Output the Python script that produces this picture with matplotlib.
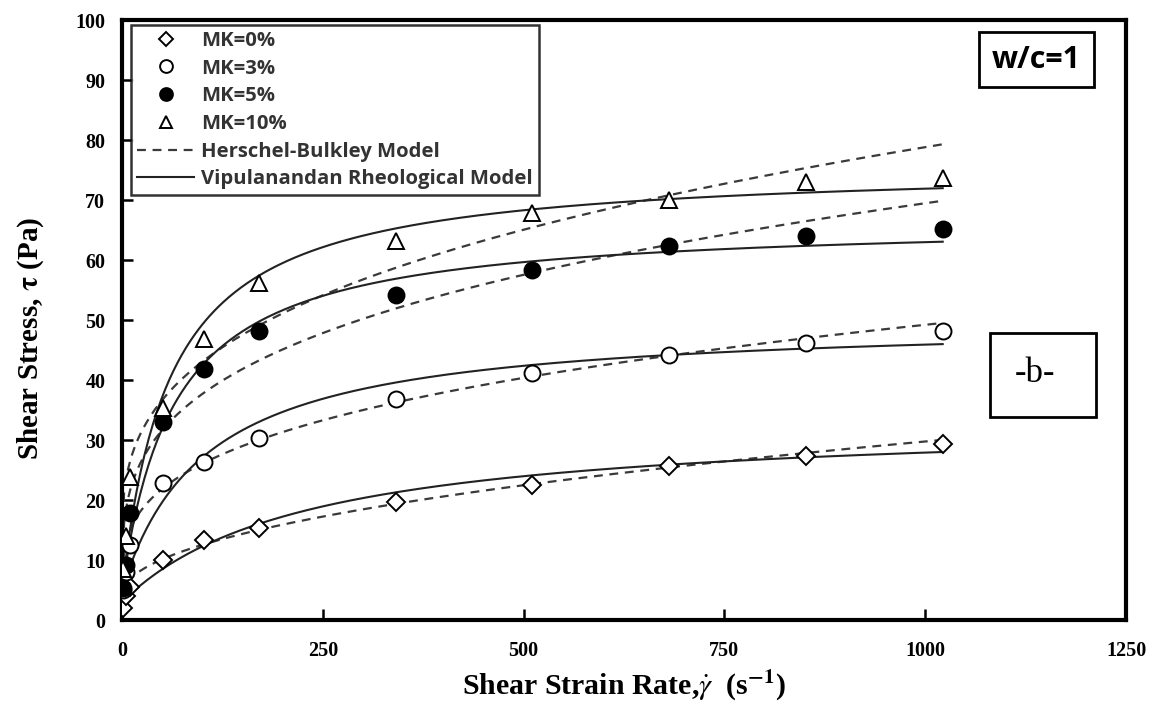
import numpy as np
import matplotlib
matplotlib.use("Agg")
from matplotlib import pyplot as plt
from matplotlib.lines import Line2D
from matplotlib.patches import Rectangle

# measured shear strain rates (1/s) and shear stress (Pa) per metakaolin content
shear_rate = [1.7, 5.1, 10.2, 51.1, 102.2, 170.3, 340.6, 510.9, 681.2, 851.5, 1021.8]
mk0 = [2.0, 4.0, 5.5, 10.0, 13.3, 15.3, 19.6, 22.5, 25.7, 27.3, 29.3]
mk3 = [5.0, 8.0, 12.5, 22.8, 26.4, 30.3, 36.8, 41.1, 44.2, 46.2, 48.2]
mk5 = [5.3, 9.2, 17.8, 33.0, 41.8, 48.2, 54.2, 58.3, 62.3, 64.0, 65.2]
mk10 = [8.5, 14.0, 23.8, 35.3, 46.9, 56.1, 63.1, 67.8, 70.0, 73.0, 73.7]
series_labels = ["MK=0%", "MK=3%", "MK=5%", "MK=10%"]

# model parameters
# Herschel-Bulkley: tau = tau0 + K * rate^n
hb_tau0 = [4.0, 5.0, 5.0, 12.0]
hb_k = [0.935, 4.78, 8.40, 6.71]
hb_n = [0.48, 0.322, 0.295, 0.3327]
# Vipulanandan: tau = tau0 + rate / (A + B * rate)
vp_tau0 = [3.0, 5.0, 5.0, 5.0]
vp_a = [7.53, 2.31, 1.049, 0.85]
vp_b = [0.03263, 0.02214, 0.0162, 0.0141]

x_ticks = [0, 250, 500, 750, 1000, 1250]
y_ticks = [0, 10, 20, 30, 40, 50, 60, 70, 80, 90, 100]

serif = "Liberation Serif"
sans = "Open Sans"
plt.rcParams["mathtext.fontset"] = "stix"

fig = plt.figure(figsize=(11.58, 7.06), dpi=100)
ax = fig.add_axes([122/1158, 1-620/706, (1126-122)/1158, 600/706])

rate = np.linspace(0, max(shear_rate), 400)
for t0, k, n in zip(hb_tau0, hb_k, hb_n):
    ax.plot(rate, t0 + k*rate**n, color="#3a3a3a", lw=1.6, ls=(0, (4, 3)), zorder=2)
for t0, a, b in zip(vp_tau0, vp_a, vp_b):
    ax.plot(rate, t0 + rate/(a + b*rate), color="#222222", lw=1.5, zorder=2)

styles = [("D", 9, "white"), ("o", 11.5, "white"), ("o", 11.5, "black"), ("^", 11.5, "white")]
for vals, lab, (m, ms, fc) in zip([mk0, mk3, mk5, mk10], series_labels, styles):
    ax.plot(shear_rate, vals, ls="none", marker=m, ms=ms, mfc=fc, mec="black",
            mew=1.4, label=lab, zorder=3)

handles, labels = ax.get_legend_handles_labels()
handles += [Line2D([], [], color="#3a3a3a", lw=1.6, ls=(0, (4, 3))),
            Line2D([], [], color="#222222", lw=1.5)]
labels += ["Herschel-Bulkley Model", "Vipulanandan Rheological Model"]
leg = ax.legend(handles, labels, loc="upper left", bbox_to_anchor=(0.009, 0.992),
                frameon=True, fancybox=False, edgecolor="black", handlelength=2.8,
                labelspacing=0.38, borderpad=0.3, handletextpad=0.35, borderaxespad=0,
                markerscale=0.8,
                prop={"family": sans, "weight": "bold", "size": 14.6})
leg.get_frame().set_linewidth(1.8)
for t in leg.get_texts():
    t.set_color("#333333")

ax.set_xlim(0, 1250)
ax.set_ylim(0, 100)
ax.set_xticks(x_ticks)
ax.set_yticks(y_ticks)
ax.tick_params(direction="in", length=8, width=1.8, pad=12)
ax.tick_params(axis="x", pad=15)
for lab in ax.get_xticklabels() + ax.get_yticklabels():
    lab.set_fontfamily(serif)
    lab.set_fontweight("bold")
    lab.set_fontsize(14.5)
for s in ax.spines.values():
    s.set_linewidth(3)

ax.set_ylabel(r"Shear Stress, $\mathbf{\tau}$ (Pa)", fontfamily=serif, fontweight="bold",
              fontsize=21)
ax.yaxis.set_label_coords(-0.076, 0.47)
ax.set_xlabel(r"Shear Strain Rate,$\dot{\gamma}$  (s$^{\mathbf{-1}}$)", fontfamily=serif,
              fontweight="bold", fontsize=21.5, labelpad=6)

# annotation boxes
fig.patches.append(Rectangle((979/1158, 1-87/706), 115/1158, 55/706, transform=fig.transFigure,
                             fill=False, ec="black", lw=2))
fig.text(1036/1158, 1-60/706, "w/c=1", family=sans, weight="bold", fontsize=22,
         ha="center", va="center")
fig.patches.append(Rectangle((990/1158, 1-417/706), 106/1158, 84/706, transform=fig.transFigure,
                             fill=False, ec="black", lw=2))
fig.text(1035/1158, 1-374/706, "-b-", family=serif, fontsize=25, ha="center", va="center")

fig.savefig("out.png", dpi=100)
